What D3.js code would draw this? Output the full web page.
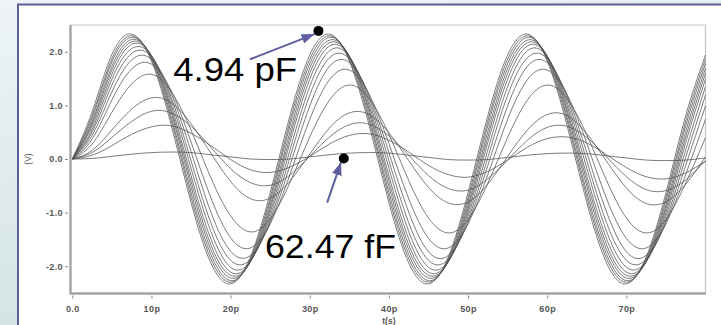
<!DOCTYPE html>
<html>
<head>
<meta charset="utf-8">
<script src="https://cdn.jsdelivr.net/npm/d3@7"></script>
<style>
  html, body { margin: 0; padding: 0; background: #fff; }
  svg { display: block; }
  .tick text { font-family: "Liberation Sans", Arial, sans-serif; }
</style>
</head>
<body>
<div id="chart"></div>
<script>
// sample times (ps)
const timePs = [0, 2.5, 5, 7.5, 10, 12.5, 15, 17.5, 20, 22.5, 25, 27.5, 30, 32.5, 35, 37.5, 40,
  42.5, 45, 47.5, 50, 52.5, 55, 57.5, 60, 62.5, 65, 67.5, 70, 72.5, 75, 77.5, 80];

// output voltage (V) per load capacitance, largest swing (4.94 pF) first, 62.47 fF last
const wave01 = [0, 0.88, 1.95, 2.33, 1.83, 0.63, -0.81, -1.94, -2.33, -1.83, -0.63, 0.81, 1.94, 2.33, 1.83, 0.63, -0.81, -1.94, -2.33, -1.83, -0.63, 0.81, 1.94, 2.33, 1.83, 0.63, -0.81, -1.94, -2.33, -1.83, -0.63, 0.81, 1.94];
const wave02 = [0, 0.81, 1.87, 2.30, 1.86, 0.72, -0.71, -1.86, -2.30, -1.86, -0.72, 0.71, 1.86, 2.30, 1.86, 0.72, -0.71, -1.86, -2.30, -1.86, -0.72, 0.71, 1.86, 2.30, 1.86, 0.72, -0.71, -1.86, -2.30, -1.86, -0.72, 0.71, 1.86];
const wave03 = [0, 0.76, 1.81, 2.27, 1.89, 0.79, -0.62, -1.78, -2.27, -1.89, -0.79, 0.62, 1.78, 2.27, 1.89, 0.79, -0.62, -1.78, -2.27, -1.89, -0.79, 0.62, 1.78, 2.27, 1.89, 0.79, -0.62, -1.78, -2.27, -1.89, -0.79, 0.62, 1.78];
const wave04 = [0, 0.70, 1.73, 2.23, 1.91, 0.87, -0.51, -1.69, -2.22, -1.91, -0.87, 0.51, 1.69, 2.22, 1.91, 0.87, -0.51, -1.69, -2.22, -1.91, -0.87, 0.51, 1.69, 2.22, 1.91, 0.87, -0.51, -1.69, -2.22, -1.91, -0.87, 0.51, 1.69];
const wave05 = [0, 0.66, 1.66, 2.19, 1.92, 0.93, -0.41, -1.60, -2.17, -1.92, -0.93, 0.41, 1.60, 2.17, 1.92, 0.93, -0.41, -1.60, -2.17, -1.92, -0.93, 0.41, 1.60, 2.17, 1.92, 0.93, -0.41, -1.60, -2.17, -1.92, -0.93, 0.41, 1.60];
const wave06 = [0, 0.61, 1.58, 2.14, 1.93, 1.00, -0.31, -1.49, -2.11, -1.92, -1.00, 0.31, 1.49, 2.11, 1.92, 1.00, -0.31, -1.49, -2.11, -1.92, -1.00, 0.31, 1.49, 2.11, 1.92, 1.00, -0.31, -1.49, -2.11, -1.92, -1.00, 0.31, 1.49];
const wave07 = [0, 0.55, 1.49, 2.06, 1.93, 1.08, -0.17, -1.35, -2.02, -1.91, -1.07, 0.17, 1.35, 2.02, 1.91, 1.07, -0.17, -1.35, -2.02, -1.91, -1.07, 0.17, 1.35, 2.02, 1.91, 1.07, -0.17, -1.35, -2.02, -1.91, -1.07, 0.17, 1.35];
const wave08 = [0, 0.50, 1.38, 1.97, 1.91, 1.15, -0.03, -1.19, -1.89, -1.87, -1.14, 0.03, 1.19, 1.89, 1.87, 1.14, -0.03, -1.19, -1.89, -1.87, -1.14, 0.03, 1.19, 1.89, 1.87, 1.14, -0.03, -1.19, -1.89, -1.87, -1.14, 0.03, 1.19];
const wave09 = [0, 0.44, 1.25, 1.85, 1.86, 1.22, 0.14, -0.99, -1.72, -1.80, -1.19, -0.12, 0.99, 1.73, 1.80, 1.19, 0.12, -0.99, -1.73, -1.80, -1.19, -0.12, 0.99, 1.73, 1.80, 1.19, 0.12, -0.99, -1.73, -1.80, -1.19, -0.12, 0.99];
const wave10 = [0, 0.37, 1.10, 1.68, 1.77, 1.27, 0.32, -0.72, -1.47, -1.66, -1.21, -0.29, 0.74, 1.48, 1.66, 1.21, 0.29, -0.74, -1.48, -1.66, -1.21, -0.29, 0.74, 1.48, 1.66, 1.21, 0.29, -0.74, -1.48, -1.66, -1.21, -0.29, 0.74];
const wave11 = [0, 0.28, 0.87, 1.40, 1.58, 1.26, 0.54, -0.35, -1.06, -1.36, -1.12, -0.44, 0.41, 1.10, 1.38, 1.13, 0.46, -0.40, -1.10, -1.38, -1.13, -0.45, 0.40, 1.10, 1.38, 1.13, 0.45, -0.40, -1.10, -1.38, -1.13, -0.45, 0.40];
const wave12 = [0, 0.16, 0.54, 0.93, 1.14, 1.05, 0.66, 0.11, -0.42, -0.74, -0.73, -0.41, 0.09, 0.58, 0.86, 0.83, 0.49, -0.03, -0.53, -0.82, -0.80, -0.47, 0.05, 0.54, 0.83, 0.81, 0.47, -0.04, -0.54, -0.83, -0.80, -0.47, 0.04];
const wave13 = [0, 0.12, 0.40, 0.70, 0.89, 0.86, 0.61, 0.22, -0.18, -0.44, -0.49, -0.30, 0.05, 0.41, 0.64, 0.65, 0.43, 0.07, -0.31, -0.55, -0.58, -0.37, -0.02, 0.35, 0.59, 0.61, 0.40, 0.04, -0.33, -0.57, -0.59, -0.39, -0.03];
const wave14 = [0, 0.07, 0.25, 0.46, 0.60, 0.62, 0.48, 0.25, -0.01, -0.20, -0.25, -0.15, 0.05, 0.28, 0.44, 0.47, 0.35, 0.13, -0.12, -0.29, -0.34, -0.23, -0.02, 0.22, 0.38, 0.41, 0.30, 0.08, -0.16, -0.33, -0.37, -0.26, -0.04];
const wave15 = [0, 0.01, 0.05, 0.09, 0.12, 0.13, 0.12, 0.08, 0.04, 0.00, -0.01, 0.00, 0.04, 0.08, 0.11, 0.12, 0.11, 0.07, 0.03, -0.01, -0.02, -0.01, 0.03, 0.07, 0.10, 0.11, 0.10, 0.06, 0.02, -0.02, -0.03, -0.02, 0.02];

const waves = [wave01, wave02, wave03, wave04, wave05, wave06, wave07, wave08,
  wave09, wave10, wave11, wave12, wave13, wave14, wave15];

// axis ticks
const xTicks = [0, 10, 20, 30, 40, 50, 60, 70];
const xTickLabels = ["0.0", "10p", "20p", "30p", "40p", "50p", "60p", "70p"];
const yTicks = [-2, -1, 0, 1, 2];

// callouts: label, marker time (ps), marker voltage (V)
const noteLabels = ["4.94 pF", "62.47 fF"];
const noteT = [31.1, 34.3];
const noteV = [2.39, 0.01];

const W = 721, H = 325;
const svg = d3.select("#chart").append("svg")
  .attr("width", W).attr("height", H);

// slide-like backdrop with a framed white panel
const defs = svg.append("defs");
const grad = defs.append("linearGradient").attr("id", "bg")
  .attr("x1", 0).attr("y1", 0).attr("x2", 0.3).attr("y2", 1);
grad.append("stop").attr("offset", "0%").attr("stop-color", "#eef4f5");
grad.append("stop").attr("offset", "100%").attr("stop-color", "#d2e2e2");
svg.append("rect").attr("width", W).attr("height", H).attr("fill", "url(#bg)");
svg.append("rect")
  .attr("x", 18).attr("y", 4.5).attr("width", 720).attr("height", 340)
  .attr("fill", "#fff").attr("stroke", "#5b5f9c").attr("stroke-width", 2);

// scales
const x = d3.scaleLinear().domain([0, 80]).range([72.3, 705.5]);
const y = d3.scaleLinear().domain([-2.5, 2.5]).range([293, 25]);

// plot frame
const frame = svg.append("g");
frame.append("path")
  .attr("d", `M${x(0) - 2},${y(2.5)} H${x(80)} V${y(-2.5)}`)
  .attr("fill", "none").attr("stroke", "#c6c6c6").attr("stroke-width", 1.2);
frame.append("path")
  .attr("d", `M70.5,${y(2.5)} V${y(-2.5) + 0.5} H${x(80) + 0.5}`)
  .attr("fill", "none").attr("stroke", "#a4a4a4").attr("stroke-width", 2.4);

// axes
const yAxis = d3.axisLeft(y).tickValues(yTicks).tickSize(3).tickPadding(2)
  .tickFormat(d => d.toFixed(1));
const yg = svg.append("g").attr("transform", "translate(68,0)").call(yAxis);

const xAxis = d3.axisBottom(x).tickValues(xTicks).tickSize(3).tickPadding(7)
  .tickFormat((d, i) => xTickLabels[i]);
const xg = svg.append("g").attr("transform", "translate(0,295.5)").call(xAxis);

[yg, xg].forEach(g => {
  g.select(".domain").remove();
  g.selectAll(".tick line").attr("stroke", "#888");
  g.selectAll(".tick text").attr("fill", "#555").attr("font-size", "9px")
    .attr("font-weight", "bold").attr("letter-spacing", "0.4px");
});

svg.append("text")
  .attr("x", x(40)).attr("y", 324)
  .attr("text-anchor", "middle")
  .attr("font-family", "Liberation Sans, Arial, sans-serif")
  .attr("font-size", "8.5px").attr("font-weight", "bold").attr("fill", "#555")
  .text("t(s)");

svg.append("text")
  .attr("transform", `translate(31,${y(0)}) rotate(-90)`)
  .attr("text-anchor", "middle")
  .attr("font-family", "Liberation Sans, Arial, sans-serif")
  .attr("font-size", "8.5px").attr("fill", "#555")
  .text("(V)");

// waveforms
const line = d3.line()
  .x((d, i) => x(timePs[i]))
  .y(d => y(d))
  .curve(d3.curveNatural);

svg.append("g")
  .selectAll("path")
  .data(waves)
  .join("path")
    .attr("d", line)
    .attr("fill", "none")
    .attr("stroke", "#505050")
    .attr("stroke-opacity", 0.75)
    .attr("stroke-width", 1);

// callouts
defs.append("marker").attr("id", "head")
  .attr("markerUnits", "userSpaceOnUse")
  .attr("markerWidth", 14).attr("markerHeight", 10)
  .attr("refX", 13).attr("refY", 5)
  .attr("orient", "auto")
  .append("path").attr("d", "M0,0 L13,5 L0,10 z").attr("fill", "#5d5f9e");

const notes = svg.append("g");
// arrow tails, tips and text anchors in data units
const tailT = [22.45, 32.2], tailV = [1.86, -0.815];
const tipT = [30.6, 33.95], tipV = [2.33, -0.06];
const textT = [12.75, 24.35], textV = [1.46, -1.85];
const textLen = [124, 131];
const textSize = [34, 33];

noteLabels.forEach((lab, i) => {
  notes.append("line")
    .attr("x1", x(tailT[i])).attr("y1", y(tailV[i]))
    .attr("x2", x(tipT[i])).attr("y2", y(tipV[i]))
    .attr("stroke", "#5d5f9e").attr("stroke-width", 2)
    .attr("marker-end", "url(#head)");
  notes.append("circle")
    .attr("cx", x(noteT[i])).attr("cy", y(noteV[i]))
    .attr("r", 5).attr("fill", "#000");
  notes.append("text")
    .attr("x", x(textT[i])).attr("y", y(textV[i]))
    .attr("font-family", "Liberation Sans, Arial, sans-serif")
    .attr("font-size", textSize[i] + "px")
    .attr("textLength", textLen[i])
    .attr("lengthAdjust", "spacingAndGlyphs")
    .attr("fill", "#000")
    .text(lab);
});
</script>
</body>
</html>
